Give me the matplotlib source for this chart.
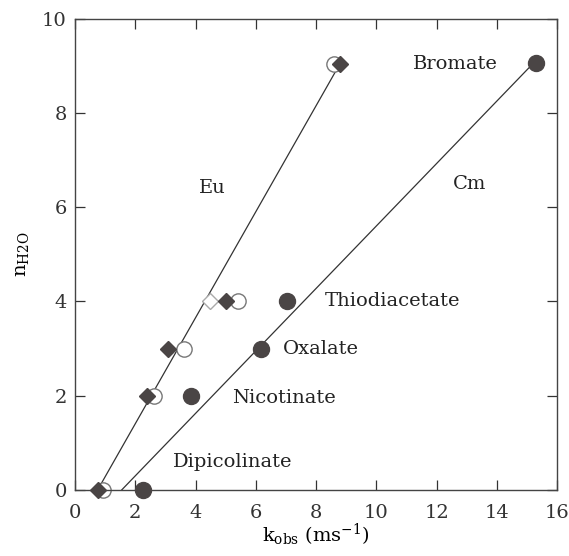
import numpy as np
import matplotlib
matplotlib.use('Agg')
import matplotlib.pyplot as plt

plt.rcParams['font.family'] = ['DejaVu Serif']
plt.rcParams['mathtext.fontset'] = 'dejavuserif'

# Eu (filled diamonds) and Eu reference (open circles)
eu_x = [0.77, 2.40, 3.08, 5.02, 8.80]
eu_y = [0, 2, 3, 4, 9.04]
eu_open_x = [0.92, 2.63, 3.63, 5.40, 8.58]
eu_open_y = [0, 2, 3, 4, 9.04]
eu_odd_x = [4.49]
eu_odd_y = [4]

# Cm (filled circles)
cm_x = [2.24, 3.84, 6.18, 7.05, 15.3]
cm_y = [0, 2, 3, 4, 9.06]

# fitted lines (end points)
eu_line_x = [0.75, 8.75]
eu_line_y = [0, 9.0]
cm_line_x = [1.55, 15.2]
cm_line_y = [0, 9.05]

ligands = ['Bromate', 'Thiodiacetate', 'Oxalate', 'Nicotinate', 'Dipicolinate']
ligand_x = [11.2, 8.3, 6.9, 5.2, 3.25]
ligand_y = [9.05, 4.0, 3.0, 1.95, 0.6]

dark = '#4a4545'

fig = plt.figure(figsize=(5.69, 5.56), dpi=100)
ax = fig.add_axes([0.132, 0.119, 0.847, 0.847])

ax.plot(eu_line_x, eu_line_y, color='#333333', lw=0.9, zorder=1)
ax.plot(cm_line_x, cm_line_y, color='#333333', lw=0.9, zorder=1)

ax.plot(eu_open_x, eu_open_y, 'o', ms=11, mfc='white', mec='#777777', mew=1.0,
        zorder=2, clip_on=False)
ax.plot(eu_odd_x, eu_odd_y, 'D', ms=8.5, mfc='white', mec='#aaaaaa', mew=1.0,
        zorder=2, clip_on=False)
ax.plot(eu_x, eu_y, 'D', ms=8.5, color=dark, zorder=3, clip_on=False)
ax.plot(cm_x, cm_y, 'o', ms=11.5, color=dark, zorder=3, clip_on=False)

for name, x, y in zip(ligands, ligand_x, ligand_y):
    ax.text(x, y, name, fontsize=14, ha='left', va='center', color='#222222')
ax.text(4.55, 6.4, 'Eu', fontsize=14, ha='center', va='center', color='#222222')
ax.text(13.1, 6.5, 'Cm', fontsize=14, ha='center', va='center', color='#222222')

ax.set_xlim(0, 16)
ax.set_ylim(0, 10)
ax.set_xticks(np.arange(0, 17, 2))
ax.set_yticks(np.arange(0, 11, 2))
ax.tick_params(direction='in', length=7, width=0.9, top=True, right=True,
               labelsize=14, colors='#333333')
ax.tick_params(axis='x', pad=10)
ax.tick_params(axis='y', pad=6)
for s in ax.spines.values():
    s.set_linewidth(1.0)
    s.set_color('#444444')

ax.set_xlabel(r'k$_{\rm obs}$ (ms$^{-1}$)', fontsize=14, labelpad=0)
ax.set_ylabel(r'n$_{\rm H2O}$', fontsize=14, labelpad=8)

fig.savefig('out.png', dpi=100)
